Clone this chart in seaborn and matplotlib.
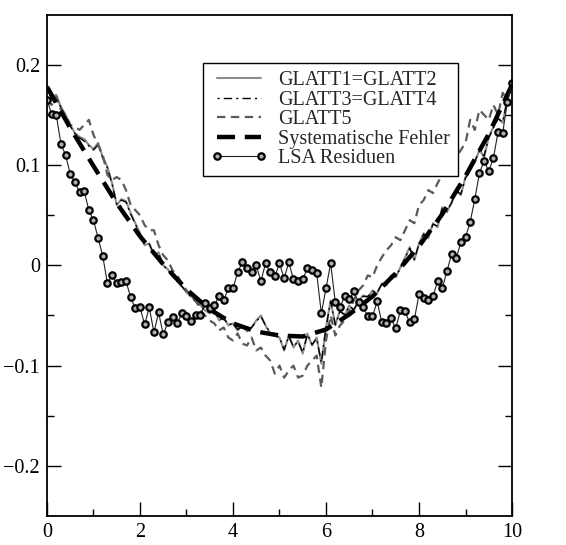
import numpy as np
import pandas as pd
import matplotlib
matplotlib.use("Agg")
import matplotlib.pyplot as plt
import seaborn as sns

# ---------------- data ----------------
x_fine = [round(0.1 * i, 1) for i in range(101)]

lsa_residuen = [
    0.165, 0.151, 0.150, 0.121, 0.110, 0.091, 0.083, 0.073, 0.074, 0.055,
    0.045, 0.027, 0.009, -0.018, -0.010, -0.018, -0.017, -0.016, -0.032, -0.043,
    -0.042, -0.059, -0.042, -0.067, -0.047, -0.069, -0.057, -0.052, -0.058, -0.048,
    -0.051, -0.056, -0.050, -0.050, -0.038, -0.043, -0.040, -0.031, -0.035, -0.023,
    -0.023, -0.007, 0.003, -0.003, -0.007, 0.000, -0.016, 0.002, -0.007, -0.011,
    0.002, -0.013, 0.003, -0.014, -0.016, -0.014, -0.003, -0.005, -0.008, -0.048,
    -0.023, 0.002, -0.037, -0.042, -0.031, -0.034, -0.026, -0.037, -0.042, -0.051,
    -0.051, -0.036, -0.057, -0.058, -0.053, -0.063, -0.045, -0.046, -0.057, -0.054,
    -0.029, -0.033, -0.035, -0.031, -0.016, -0.023, -0.006, 0.011, 0.007, 0.023,
    0.028, 0.043, 0.066, 0.092, 0.104, 0.094, 0.107, 0.133, 0.132, 0.163,
    0.182,
]

glatt1 = [
    0.175, 0.168, 0.170, 0.158, 0.150, 0.140, 0.132, 0.128, 0.126, 0.120,
    0.116, 0.122, 0.108, 0.098, 0.082, 0.060, 0.066, 0.064, 0.052, 0.042,
    0.032, 0.020, 0.022, 0.010, 0.013, 0.000, -0.004, -0.011, -0.015, -0.021,
    -0.027, -0.031, -0.036, -0.040, -0.045, -0.048, -0.044, -0.055, -0.052, -0.060,
    -0.058, -0.065, -0.060, -0.066, -0.062, -0.055, -0.050, -0.060, -0.068, -0.070,
    -0.072, -0.085, -0.070, -0.082, -0.075, -0.088, -0.068, -0.080, -0.072, -0.098,
    -0.062, -0.035, -0.060, -0.045, -0.050, -0.040, -0.045, -0.035, -0.030, -0.032,
    -0.025, -0.028, -0.018, -0.020, -0.010, -0.012, -0.002, 0.008, 0.018, 0.005,
    0.022, 0.032, 0.027, 0.042, 0.038, 0.058, 0.053, 0.063, 0.075, 0.070,
    0.088, 0.095, 0.103, 0.115, 0.108, 0.128, 0.138, 0.147, 0.142, 0.166,
    0.180,
]

glatt3 = [
    0.176, 0.166, 0.168, 0.157, 0.148, 0.139, 0.131, 0.127, 0.124, 0.119,
    0.115, 0.120, 0.107, 0.097, 0.081, 0.061, 0.065, 0.063, 0.051, 0.041,
    0.031, 0.021, 0.021, 0.011, 0.012, 0.000, -0.005, -0.010, -0.016, -0.021,
    -0.026, -0.032, -0.036, -0.041, -0.045, -0.047, -0.045, -0.054, -0.053, -0.059,
    -0.058, -0.064, -0.061, -0.065, -0.062, -0.056, -0.051, -0.060, -0.067, -0.070,
    -0.072, -0.084, -0.071, -0.081, -0.076, -0.087, -0.069, -0.079, -0.073, -0.097,
    -0.062, -0.036, -0.059, -0.046, -0.049, -0.041, -0.044, -0.036, -0.031, -0.031,
    -0.026, -0.027, -0.019, -0.019, -0.011, -0.011, -0.003, 0.007, 0.017, 0.006,
    0.021, 0.031, 0.028, 0.041, 0.039, 0.057, 0.054, 0.062, 0.074, 0.071,
    0.087, 0.094, 0.104, 0.114, 0.109, 0.127, 0.137, 0.146, 0.143, 0.165,
    0.180,
]

glatt5 = [
    0.165, 0.160, 0.168, 0.155, 0.150, 0.140, 0.138, 0.135, 0.140, 0.145,
    0.130, 0.120, 0.110, 0.090, 0.085, 0.088, 0.085, 0.075, 0.060, 0.055,
    0.050, 0.040, 0.035, 0.035, 0.020, 0.010, 0.005, -0.005, -0.010, -0.018,
    -0.025, -0.030, -0.035, -0.045, -0.050, -0.055, -0.058, -0.065, -0.062, -0.072,
    -0.075, -0.068, -0.078, -0.080, -0.072, -0.085, -0.082, -0.090, -0.095, -0.108,
    -0.100, -0.112, -0.105, -0.100, -0.112, -0.110, -0.100, -0.095, -0.090, -0.122,
    -0.075, -0.050, -0.070, -0.060, -0.055, -0.045, -0.035, -0.025, -0.020, -0.010,
    -0.012, 0.000, 0.008, 0.015, 0.020, 0.028, 0.025, 0.035, 0.045, 0.042,
    0.060, 0.065, 0.075, 0.072, 0.082, 0.090, 0.095, 0.105, 0.108, 0.115,
    0.122, 0.145, 0.135, 0.155, 0.150, 0.145, 0.160, 0.150, 0.172, 0.165,
    0.180,
]

x_sys = [0.5 * i for i in range(21)]
systematisch = [
    0.178, 0.137, 0.099, 0.062, 0.029, 0.001, -0.024, -0.044, -0.058, -0.066,
    -0.070, -0.071, -0.064, -0.049, -0.031, -0.008, 0.019, 0.051, 0.089, 0.131,
    0.180,
]

labels = ["GLATT1=GLATT2", "GLATT3=GLATT4", "GLATT5",
          "Systematische Fehler", "LSA Residuen"]

# ---------------- style ----------------
sns.set_theme(style="white")
plt.rcParams["font.family"] = ["Liberation Serif", "DejaVu Serif"]
plt.rcParams["lines.scale_dashes"] = False
plt.rcParams["axes.unicode_minus"] = True

fig = plt.figure(figsize=(5.66, 5.45), dpi=100)
ax = fig.add_axes([0.083, 0.0532, 0.8216, 0.920])

df_fine = pd.DataFrame({"x": x_fine, "g1": glatt1, "g3": glatt3,
                        "g5": glatt5, "lsa": lsa_residuen})
df_sys = pd.DataFrame({"x": x_sys, "sys": systematisch})

sns.lineplot(data=df_fine, x="x", y="g1", ax=ax, color="#8c8c8c",
             lw=1.5, label=labels[0], sort=False)
sns.lineplot(data=df_fine, x="x", y="g3", ax=ax, color="black",
             lw=1.0, linestyle=(0, (1.5, 3, 6, 3)), label=labels[1], sort=False)
sns.lineplot(data=df_fine, x="x", y="g5", ax=ax, color="#5a5a5a",
             lw=1.6, linestyle=(0, (6, 4)), label=labels[2], sort=False)
sns.lineplot(data=df_sys, x="x", y="sys", ax=ax, color="black",
             lw=3.2, linestyle=(0, (13, 7)), label=labels[3], sort=False)
sns.lineplot(data=df_fine, x="x", y="lsa", ax=ax, color="#222222",
             lw=0.8, marker="o", markersize=4.6, markerfacecolor="#b0b0b0",
             markeredgecolor="black", markeredgewidth=1.6,
             label=labels[4], sort=False)

ax.set_xlim(0, 10)
ax.set_ylim(-0.25, 0.25)
ax.set_xticks([0, 2, 4, 6, 8, 10])
ax.set_xticks([1, 3, 5, 7, 9], minor=True)
ax.set_yticks([-0.2, -0.1, 0, 0.1, 0.2])
ax.set_yticklabels(["\u22120.2", "\u22120.1", "0", "0.1", "0.2"])
ax.set_yticks([-0.15, -0.05, 0.05, 0.15], minor=True)
ax.set_xlabel("")
ax.set_ylabel("")

for s in ax.spines.values():
    s.set_color("black")
    s.set_linewidth(1.3)

ax.tick_params(axis="both", which="major", direction="in", length=10,
               width=1.0, color="black", labelsize=14.5, labelcolor="black",
               right=True, top=False, left=True, bottom=True, pad=5)
ax.tick_params(axis="both", which="minor", direction="in", length=5,
               width=1.0, color="black", right=True, top=False,
               left=True, bottom=True)

leg = ax.legend(loc="upper left", bbox_to_anchor=(0.335, 0.903),
                borderaxespad=0, fontsize=14.5, frameon=True, fancybox=False,
                edgecolor="black", handlelength=2.8, handletextpad=0.55,
                labelspacing=0.02, borderpad=0.4, numpoints=2)
leg.get_frame().set_linewidth(1.0)
leg.get_frame().set_alpha(1)

fig.savefig("out.png", dpi=100)
